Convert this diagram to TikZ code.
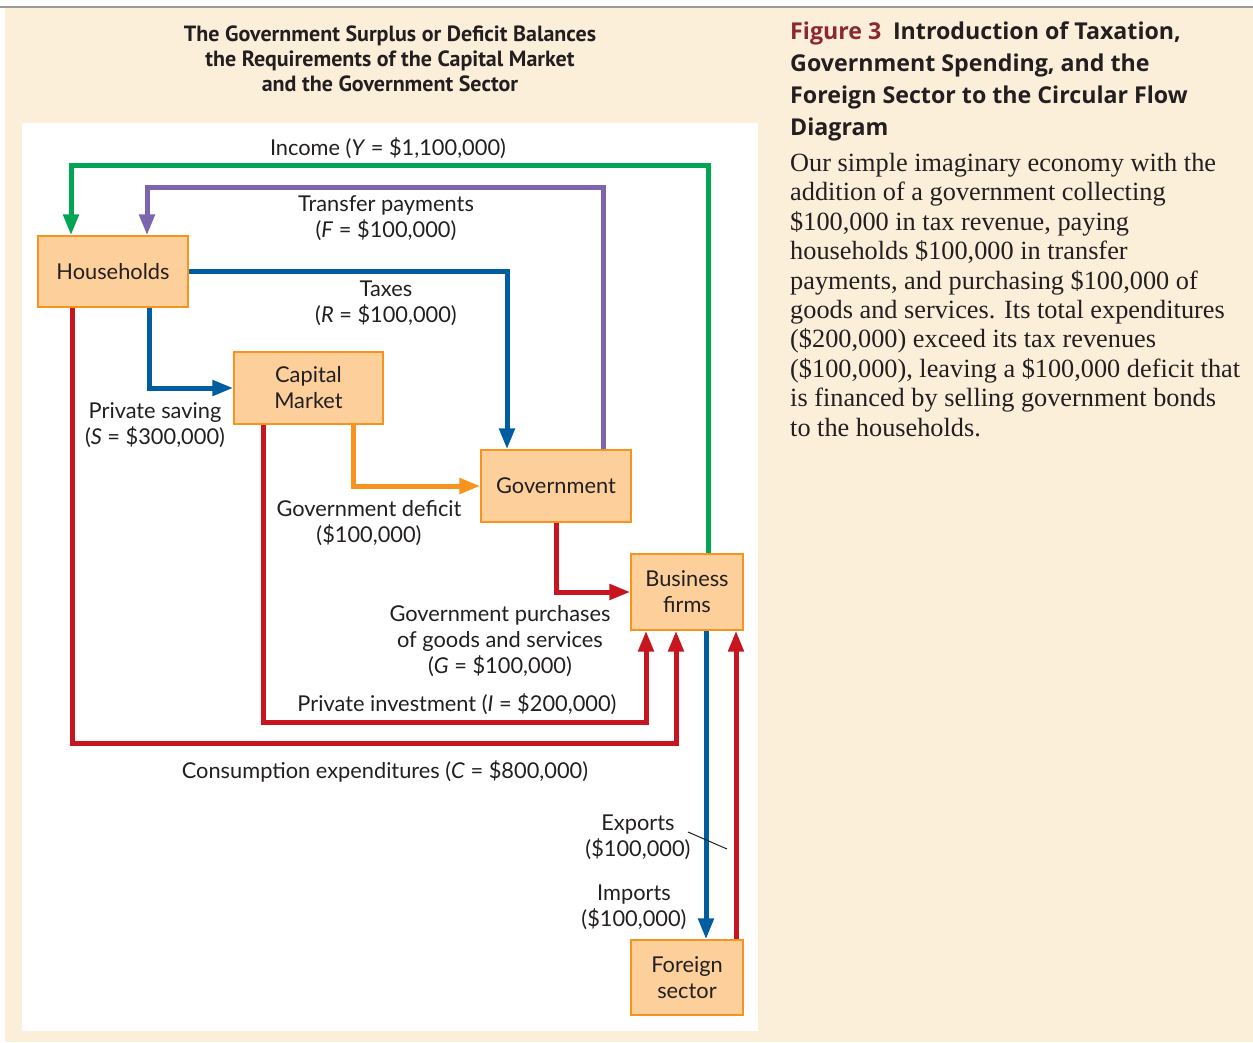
\documentclass[tikz,border=0pt]{standalone}
\usepackage{fontspec}
\setmainfont{Liberation Serif}
\newfontfamily\lab{Lato}
\newfontfamily\headf{PT Sans}
\newfontfamily\capf{Open Sans}
\usetikzlibrary{arrows.meta}
\definecolor{cream}{RGB}{252,239,218}
\definecolor{boxfill}{RGB}{253,208,155}
\definecolor{boxline}{RGB}{247,148,29}
\definecolor{txt}{RGB}{35,31,32}
\definecolor{cgreen}{RGB}{0,166,81}
\definecolor{cpurple}{RGB}{124,100,174}
\definecolor{cblue}{RGB}{0,94,160}
\definecolor{corange}{RGB}{247,148,29}
\definecolor{cred}{RGB}{200,22,32}
\definecolor{figred}{RGB}{140,40,52}
\begin{document}
\begin{tikzpicture}[x=1pt,y=-1pt,
  box/.style={draw=boxline, fill=boxfill, line width=1.3pt, inner sep=0pt, align=center,
     font=\lab\fontsize{21.8}{26}\selectfont, text=txt},
  lbl/.style={font=\lab\fontsize{21.8}{26}\selectfont, text=txt, align=center, inner sep=0pt},
  flow/.style={line width=5pt, -{Triangle[length=21pt,width=15pt]}},
  plain/.style={line width=5pt}
]
\useasboundingbox (0,0) rectangle (1253,1042);
\fill[white] (0,0) rectangle (1253,1042);
\fill[cream] (5,8) rectangle (1253,1042);
\draw[line width=1.5pt, black!40] (0,7) -- (1253,7);
\fill[white] (22,123) rectangle (758,1031);

% title
\node[font=\headf\bfseries\fontsize{22}{25}\selectfont, text=txt, align=center, inner sep=0pt] (title) at (390,59)
  {The Government Surplus or Deficit Balances\\the Requirements of the Capital Market\\and the Government Sector};

% right caption
\node[anchor=north west, font=\capf\bfseries\fontsize{23.2}{32}\selectfont, text=txt, align=left, inner sep=0pt] (heading) at (790,22)
  {\textcolor{figred}{Figure 3}\enspace Introduction of Taxation,\\Government Spending, and the\\Foreign Sector to the Circular Flow\\Diagram};
\node[anchor=north west, font=\fontsize{26.3}{29.4}\selectfont, text=txt, align=left, inner sep=0pt] (body) at (790,153)
  {Our simple imaginary economy with the\\addition of a government collecting\\\$100,000 in tax revenue, paying\\households \$100,000 in transfer\\payments, and purchasing \$100,000 of\\goods and services. Its total expenditures\\(\$200,000) exceed its tax revenues\\(\$100,000), leaving a \$100,000 deficit that\\is financed by selling government bonds\\to the households.};

% boxes
\node[box, minimum width=150pt, minimum height=71pt] (hh) at (113,271.5) {Households};
\node[box, minimum width=149pt, minimum height=72pt] (cm) at (308.5,388) {Capital\\Market};
\node[box, minimum width=150pt, minimum height=72pt] (gov) at (556,486) {Government};
\node[box, minimum width=112pt, minimum height=76pt] (firms) at (687,592) {Business\\firms};
\node[box, minimum width=112pt, minimum height=75pt] (fs) at (687,977.5) {Foreign\\sector};

% flows
\draw[flow, cgreen] (708,0 |- firms.north) |- (71,165) -- (71,0 |- hh.north);
\draw[flow, cpurple] (603,0 |- gov.north) |- (147,187) -- (147,0 |- hh.north);
\draw[flow, cblue] (hh.east) -| (507,0 |- gov.north);
\draw[flow, cblue] (149,0 |- hh.south) |- (cm.west);
\draw[flow, corange] (353,0 |- cm.south) |- (gov.west);
\draw[flow, cred] (556,0 |- gov.south) |- (firms.west);
\draw[flow, cred] (263,0 |- cm.south) |- (646,722) -- (646,0 |- firms.south);
\draw[flow, cred] (72,0 |- hh.south) |- (676,743) -- (676,0 |- firms.south);
\draw[flow, cblue] (706,0 |- firms.south) -- (706,0 |- fs.north);
\draw[flow, cred] (736,0 |- fs.north) -- (736,0 |- firms.south);

% labels
\node[lbl] (lincome) at (388,148) {Income (\textit{Y} = \$1,100,000)};
\node[lbl] (ltransfer) at (386,218) {Transfer payments\\(\textit{F} = \$100,000)};
\node[lbl] (ltaxes) at (386,303) {Taxes\\(\textit{R} = \$100,000)};
\node[lbl] (lsaving) at (155,425) {Private saving\\(\textit{S} = \$300,000)};
\node[lbl] (ldeficit) at (369,523) {Government deficit\\(\$100,000)};
\node[lbl] (lpurch) at (500,641) {Government purchases\\of goods and services\\(\textit{G} = \$100,000)};
\node[lbl] (linv) at (457,704) {Private investment (\textit{I} = \$200,000)};
\node[lbl] (lcons) at (385,771) {Consumption expenditures (\textit{C} = \$800,000)};
\node[lbl] (lexp) at (638,837) {Exports\\(\$100,000)};
\node[lbl] (limp) at (634,907) {Imports\\(\$100,000)};
\coordinate (lead1) at (688,832);
\coordinate (lead2) at (727,849);
\draw[line width=1pt, txt] (lead1) -- (lead2);
\end{tikzpicture}
\end{document}
